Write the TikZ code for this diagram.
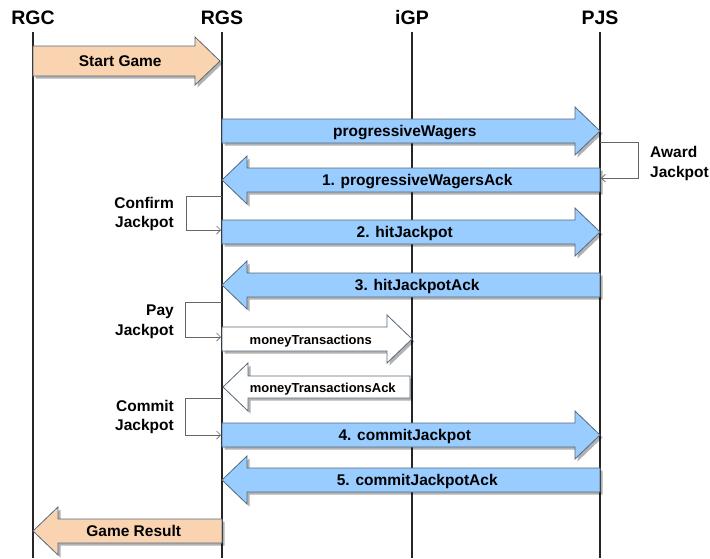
\documentclass[tikz,border=0pt]{standalone}
\usepackage{fontspec}
\setmainfont{Liberation Sans}
\usetikzlibrary{arrows.meta,shadows}
\definecolor{blueFill}{HTML}{99CCFF}
\definecolor{peachFill}{HTML}{FAD3B0}
\definecolor{edgeCol}{HTML}{56697C}
\definecolor{loopCol}{HTML}{666666}
\tikzset{
  hdr/.style={font=\fontsize{19.5}{22}\selectfont\bfseries, inner sep=0pt},
  life/.style={line width=1.3pt, black!85},
  shad/.style={drop shadow={shadow xshift=2.5pt, shadow yshift=-2.5pt, opacity=0.3, fill=black}},
  bluemsg/.style={fill=blueFill, draw=edgeCol, line width=0.8pt, shad},
  peachmsg/.style={fill=peachFill, draw=edgeCol, line width=0.8pt, shad},
  whitemsg/.style={fill=white, draw=edgeCol, line width=0.8pt, shad},
  lbl/.style={font=\fontsize{15.5}{18}\selectfont\bfseries, inner sep=0pt, anchor=base},
  smalllbl/.style={font=\fontsize{13}{16}\selectfont\bfseries, inner sep=0pt, anchor=base},
  looplbl/.style={font=\fontsize{15.5}{19.5}\selectfont\bfseries, inner sep=0pt},
  selfloop/.style={draw=loopCol, line width=0.7pt, -{Straight Barb[length=4pt,width=8pt]}}
}
% #1 name, #2 tail x, #3 tip x, #4 centre y, #5 half shaft, #6 style, #7 label style, #8 label
\newcommand\rmsg[8]{%
  \path[#6] (#2,#4-#5) -- (#3-25,#4-#5) -- (#3-25,#4-24) -- (#3,#4)
     -- (#3-25,#4+24) -- (#3-25,#4+#5) -- (#2,#4+#5) -- cycle;
  \node[#7] (#1) at ({(#2+#3-12.5)/2},#4+5) {#8};
}
\newcommand\lmsg[8]{%
  \path[#6] (#2,#4-#5) -- (#3+25,#4-#5) -- (#3+25,#4-24) -- (#3,#4)
     -- (#3+25,#4+24) -- (#3+25,#4+#5) -- (#2,#4+#5) -- cycle;
  \node[#7] (#1) at ({(#2+#3+12.5)/2},#4+5) {#8};
}
\begin{document}
\begin{tikzpicture}[x=1pt,y=-1pt]
\useasboundingbox[fill=white] (0,0) rectangle (710,558);
% lifelines
\node[hdr] (rgc) at (33,18) {RGC};
\node[hdr] (rgs) at (222,18) {RGS};
\node[hdr] (igp) at (412,18) {iGP};
\node[hdr] (pjs) at (600,18) {PJS};
\foreach \n in {rgc,rgs,igp,pjs}{
  \draw[life] (\n.south |- 0,32) -- (\n.south |- 0,558);
}
% messages
\rmsg{startgame}{33}{220}{61}{15}{peachmsg}{lbl}{Start Game}
\rmsg{pw}{222}{600}{131}{12}{bluemsg}{lbl}{progressiveWagers}
\lmsg{pwack}{600}{222}{180}{12}{bluemsg}{lbl}{1. progressiveWagersAck}
\rmsg{hit}{222}{600}{232}{12}{bluemsg}{lbl}{2. hitJackpot}
\lmsg{hitack}{600}{222}{285}{12}{bluemsg}{lbl}{3. hitJackpotAck}
\rmsg{mt}{222}{412}{339}{12}{whitemsg}{smalllbl}{moneyTransactions}
\lmsg{mtack}{410}{223}{387}{11}{whitemsg}{smalllbl}{moneyTransactionsAck}
\rmsg{commit}{222}{600}{435}{12}{bluemsg}{lbl}{4. commitJackpot}
\lmsg{commitack}{600}{222}{480}{12}{bluemsg}{lbl}{5. commitJackpotAck}
\lmsg{result}{222}{33}{531}{12}{peachmsg}{lbl}{Game Result}
% self loops
\draw[selfloop] (600,142) -- (638,142) -- (638,178) -- (601,178);
\node[looplbl, align=left, anchor=north west] (award) at (650,146.5) {Award\\Jackpot};
\draw[selfloop] (222,196) -- (186,196) -- (186,230) -- (221,230);
\node[looplbl, align=right, anchor=north east] (confirm) at (174,197) {Confirm\\Jackpot};
\draw[selfloop] (222,302) -- (185,302) -- (185,337) -- (221,337);
\node[looplbl, align=right, anchor=north east] (pay) at (174,305) {Pay\\Jackpot};
\draw[selfloop] (222,398) -- (185,398) -- (185,435) -- (221,435);
\node[looplbl, align=right, anchor=north east] (commitlbl) at (174,400) {Commit\\Jackpot};
\end{tikzpicture}
\end{document}
